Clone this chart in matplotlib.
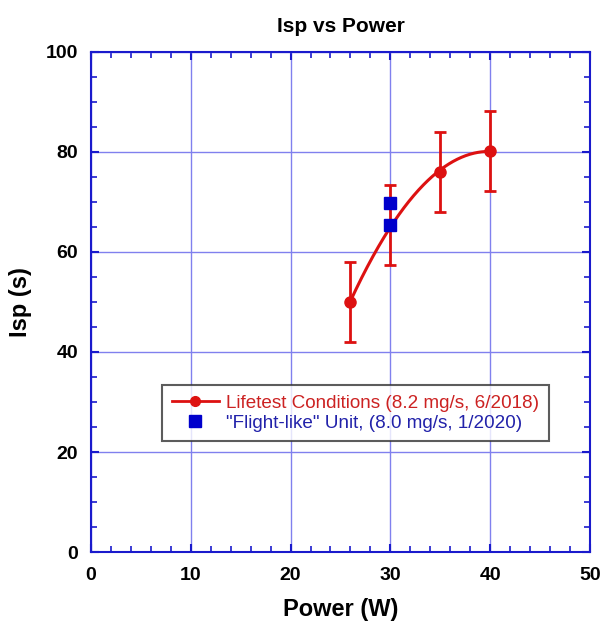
import numpy as np
import matplotlib
matplotlib.use("Agg")
import matplotlib.pyplot as plt
from matplotlib.ticker import MultipleLocator

# lifetest data
power = [26, 30, 35, 40]
isp = [50.0, 65.4, 76.0, 80.2]
isp_err = [8.0, 8.0, 8.0, 8.0]

# flight-like unit
flight_power = [30, 30]
flight_isp = [69.7, 65.4]

plt.rcParams['font.family'] = ['Liberation Sans', 'DejaVu Sans']

fig = plt.figure(figsize=(6.01, 6.31), dpi=100)
ax = fig.add_axes([0.151, 0.125, 0.831, 0.793])

blue = '#1a1acc'
red = '#dd1111'

# smooth fit through lifetest points
coef = np.polyfit(power, isp, 2)
xs = np.linspace(min(power), max(power), 200)
ax.plot(xs, np.polyval(coef, xs), color=red, lw=2.2, zorder=3)
ax.errorbar(power, isp, yerr=isp_err, fmt='none', ecolor=red, elinewidth=2, capsize=4.5, capthick=2, zorder=3)
ax.plot(power, isp, 'o', color=red, ms=8, zorder=4)
line_handle, = ax.plot([], [], '-o', color=red, lw=2, ms=7)
sq, = ax.plot(flight_power, flight_isp, 's', color='#0000cc', ms=8, zorder=5)

ax.set_xlim(0, 50)
ax.set_ylim(0, 100)
ax.xaxis.set_major_locator(MultipleLocator(10))
ax.xaxis.set_minor_locator(MultipleLocator(2))
ax.yaxis.set_major_locator(MultipleLocator(20))
ax.yaxis.set_minor_locator(MultipleLocator(5))
ax.grid(True, which='major', color='#8080ee', lw=1)
ax.set_axisbelow(True)
for s in ax.spines.values():
    s.set_color(blue)
    s.set_linewidth(1.5)
ax.tick_params(which='both', direction='in', top=True, right=True, color=blue)
ax.tick_params(which='major', length=6, width=1.5, labelsize=14)
ax.tick_params(axis='x', which='major', pad=11)
ax.tick_params(axis='y', which='major', pad=9)
ax.tick_params(which='minor', length=4, width=1.2)
for lbl in ax.get_xticklabels() + ax.get_yticklabels():
    lbl.set_fontweight('bold')

ax.set_xlabel('Power (W)', fontsize=17, fontweight='bold', labelpad=10)
ax.set_ylabel('Isp (s)', fontsize=17, fontweight='bold', labelpad=10)
ax.set_title('Isp vs Power', fontsize=15, fontweight='bold', pad=14)

leg = ax.legend([line_handle, sq],
                ['Lifetest Conditions (8.2 mg/s, 6/2018)', '"Flight-like" Unit, (8.0 mg/s, 1/2020)'],
                loc='upper left', bbox_to_anchor=(0.143, 0.334), fontsize=13.6,
                frameon=True, fancybox=False, edgecolor='#333333', borderpad=0.5,
                handlelength=2.5, handletextpad=0.4, labelspacing=0.15, borderaxespad=0)
leg.get_frame().set_linewidth(1.5)
leg.get_texts()[0].set_color('#cc2222')
leg.get_texts()[1].set_color('#2222aa')

fig.savefig('out.png', dpi=100)
